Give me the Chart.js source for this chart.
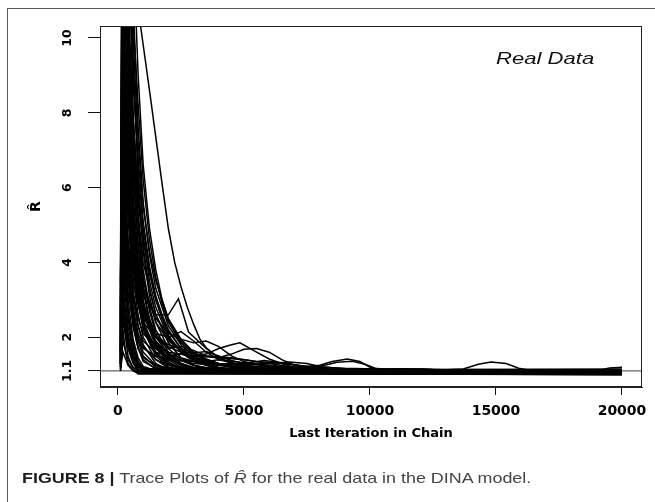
<!DOCTYPE html>
<html><head><meta charset="utf-8">
<script src="https://cdn.jsdelivr.net/npm/chart.js@4"></script>
<style>
html,body{margin:0;padding:0;background:#fff;}
#wrap{position:relative;width:655px;height:502px;overflow:hidden;background:#fff;}
#frame{position:absolute;left:7px;top:8px;width:720px;height:620px;border-left:1.5px solid #5a5a5a;border-top:1.5px solid #5a5a5a;}
#cv{position:absolute;left:0;top:0;}
#caption{position:absolute;left:22px;top:471px;font-family:'Liberation Sans',Arial,sans-serif;font-size:14.5px;line-height:1;white-space:nowrap;transform:scaleX(1.234);transform-origin:0 0;color:#454545;}
#caption b{color:#1e1e1e;}
</style></head>
<body>
<div id="wrap">
  <div id="frame"></div>
  <canvas id="cv" width="655" height="502"></canvas>
  <div id="caption"><b>FIGURE 8 |</b> Trace Plots of <i>R&#770;</i> for the real data in the DINA model.</div>
</div>
<script>
// ---- data: [last iteration, R-hat] ----
const X_TICKS = [0, 5000, 10000, 15000, 20000];
const Y_TICKS = [1.1, 2, 4, 6, 8, 10];
const X_MIN = -714, X_MAX = 20794;
const Y_MIN = 0.67, Y_MAX = 10.32;
const REF_LINE = 1.1;
const PANEL_LABEL = 'Real Data';
const PANEL_LABEL_AT = [16950, 9.44];

const spikeTraces = [
  [[100,1.3],[200,6.5],[300,12],[400,15],[500,11],[600,8],[800,5],[1000,3.4],[1250,2.4],[1500,1.8],[2000,1.35],[2500,1.15],[3000,1.08],[4000,1.05],[20000,1.04]],
  [[100,2.1],[200,14],[300,18],[400,13],[600,9.5],[800,6.2],[1000,4.3],[1250,3.1],[1500,2.4],[2000,1.7],[2500,1.4],[3000,1.25],[3500,1.15],[4000,1.1],[5000,1.06],[20000,1.03]],
  [[100,1.6],[200,10.5],[300,9],[400,6.5],[600,4.2],[800,3],[1000,2.2],[1500,1.5],[2000,1.2],[3000,1.08],[20000,1.02]],
  [[100,2.8],[200,16],[400,12.5],[600,8.8],[800,6.8],[1000,5.1],[1250,3.9],[1500,3.1],[1750,2.6],[2000,2.2],[2500,1.7],[3000,1.4],[3500,1.25],[4000,1.18],[5000,1.12],[6000,1.08],[8000,1.06],[20000,1.05]],
  [[100,1.2],[200,4.5],[300,8.5],[400,7.2],[600,4.8],[800,3.3],[1000,2.5],[1250,1.9],[1500,1.6],[2000,1.3],[2500,1.15],[3000,1.08],[20000,1.02]],
  [[100,3.4],[200,20],[400,16],[600,11],[800,7.6],[1000,5.6],[1250,4.2],[1500,3.3],[2000,2.3],[2500,1.8],[3000,1.5],[3500,1.35],[4000,1.25],[4500,1.2],[5000,1.15],[6000,1.1],[7000,1.07],[20000,1.04]],
  [[100,1.9],[200,11.5],[300,13],[400,10.2],[500,8],[600,6.5],[800,4.4],[1000,3.2],[1250,2.5],[1500,2.0],[2000,1.55],[2500,1.3],[3000,1.18],[4000,1.1],[5000,1.06],[20000,1.03]],
  [[100,1.4],[200,7.5],[300,5.2],[400,3.8],[600,2.6],[800,2.0],[1000,1.6],[1500,1.25],[2000,1.1],[20000,1.01]],
  [[100,2.4],[200,12.5],[300,10.8],[400,9.5],[600,7],[800,5.6],[1000,4.6],[1250,3.7],[1500,3.0],[1750,2.5],[2000,2.15],[2500,1.7],[3000,1.45],[3500,1.3],[4000,1.2],[5000,1.12],[6000,1.08],[20000,1.06]],
  [[100,1.15],[200,3.2],[300,6],[400,9.8],[500,8.2],[600,6.8],[800,4.9],[1000,3.6],[1250,2.7],[1500,2.1],[2000,1.5],[2500,1.25],[3000,1.12],[4000,1.05],[20000,1.03]],
  [[100,3.0],[200,13],[300,16],[500,12],[600,10],[800,7.2],[1000,5.5],[1250,4.3],[1500,3.5],[2000,2.5],[2500,1.95],[3000,1.6],[3500,1.4],[4000,1.3],[4500,1.22],[5000,1.17],[6000,1.12],[7000,1.09],[9000,1.07],[20000,1.05]],
  [[100,1.7],[200,8.8],[300,7.6],[400,5.8],[600,3.6],[800,2.6],[1000,2.0],[1500,1.4],[2000,1.18],[3000,1.06],[20000,1.01]],
  [[100,2.2],[200,11],[400,10.6],[500,9.3],[600,7.8],[800,5.9],[1000,4.7],[1250,3.5],[1500,2.8],[2000,2.0],[2500,1.65],[3000,1.45],[3500,1.35],[4000,1.28],[4500,1.2],[5000,1.14],[6000,1.09],[20000,1.05]],
  [[100,1.3],[200,5.8],[300,4.6],[400,3.5],[600,2.3],[800,1.7],[1000,1.4],[1500,1.15],[2000,1.06],[20000,1.02]],
  [[100,2.6],[200,15],[300,14],[400,12],[600,9.2],[800,6.5],[1000,4.9],[1250,3.8],[1500,3.0],[2000,2.05],[2500,1.6],[3000,1.35],[4000,1.15],[5000,1.1],[20000,1.04]],
  [[100,1.8],[200,9.5],[300,8.2],[400,6.6],[600,4.6],[800,3.4],[1000,2.7],[1250,2.2],[1500,1.9],[2000,1.55],[2500,1.38],[3000,1.25],[4000,1.12],[5000,1.07],[20000,1.03]],
  [[100,1.1],[200,2.4],[300,4.8],[400,6.2],[500,5.4],[600,4.5],[800,3.2],[1000,2.4],[1500,1.6],[2000,1.3],[3000,1.1],[20000,1.02]],
  [[100,3.2],[200,18],[400,13.8],[600,10.5],[800,8.2],[1000,6.2],[1250,4.6],[1500,3.6],[1750,2.9],[2000,2.4],[2500,1.85],[3000,1.55],[3500,1.38],[4000,1.27],[5000,1.15],[6000,1.1],[20000,1.06]],
  [[100,1.5],[200,8],[300,11],[400,9],[600,5.8],[800,4],[1000,3],[1250,2.3],[1500,1.85],[2000,1.4],[2500,1.2],[3000,1.1],[20000,1.02]],
  [[100,2.0],[200,10],[300,7.4],[400,5.2],[600,3.2],[800,2.3],[1000,1.8],[1500,1.3],[2000,1.12],[20000,1.02]],
  [[100,2.5],[200,18],[500,14],[900,10.3],[1250,8.6],[1500,7.35],[1750,6.1],[2000,4.9],[2250,4.0],[2500,3.35],[2750,2.8],[3000,2.35],[3250,1.95],[3500,1.72],[4000,1.45],[4500,1.3],[5000,1.22],[6000,1.15],[7000,1.1],[20000,1.06]],
  [[100,1.6],[200,9],[400,7],[600,5],[800,3.8],[1000,3.1],[1500,2.6],[2000,2.6],[2400,3.03],[2800,2.14],[3500,1.7],[4000,1.45],[5000,1.2],[6000,1.1],[20000,1.04]],
  [[100,2.9],[200,17],[300,14],[400,11.2],[500,9.4],[600,7.9],[800,5.8],[1000,4.4],[1250,3.3],[1500,2.6],[2000,1.85],[2500,1.45],[3000,1.25],[4000,1.12],[6000,1.06],[20000,1.04]],
  [[100,1.25],[200,5.2],[300,9.5],[400,8.4],[500,6.9],[600,5.6],[800,3.9],[1000,2.9],[1250,2.2],[1500,1.75],[2000,1.3],[3000,1.08],[20000,1.03]],
  [[100,2.0],[200,13.5],[300,11.5],[400,8.7],[600,5.4],[800,3.7],[1000,2.8],[1500,1.85],[2000,1.45],[2500,1.25],[3000,1.15],[4000,1.08],[20000,1.04]],
  [[100,1.45],[200,6.8],[300,7.1],[400,6],[600,4.1],[800,2.9],[1000,2.25],[1500,1.55],[2000,1.25],[3000,1.1],[20000,1.03]],
  [[100,3.5],[200,22],[400,18],[600,12.5],[800,9],[1000,6.6],[1250,4.9],[1500,3.8],[1750,3.0],[2000,2.45],[2500,1.9],[3000,1.6],[3500,1.42],[4000,1.3],[5000,1.18],[6000,1.12],[8000,1.08],[20000,1.06]],
  [[100,1.75],[200,9.8],[300,12.2],[400,10.8],[600,7.4],[800,5.2],[1000,3.8],[1250,2.8],[1500,2.2],[2000,1.6],[2500,1.3],[3000,1.16],[4000,1.08],[20000,1.03]]
];

const slowTraces = [
  [[100,1.4],[200,6],[400,4.5],[600,3.4],[1000,2.4],[1500,2.0],[2000,1.75],[2500,1.6],[3000,1.5],[3500,1.55],[4000,1.7],[4500,1.8],[4840,1.85],[5500,1.6],[6000,1.42],[6500,1.3],[7000,1.2],[8000,1.12],[20000,1.05]],
  [[100,1.9],[200,9.2],[400,7.5],[600,5.5],[800,4.1],[1000,3.3],[1500,2.5],[2000,2.1],[2500,1.95],[3000,1.85],[3500,1.9],[4000,1.75],[4500,1.5],[5000,1.35],[6000,1.2],[7000,1.12],[20000,1.05]],
  [[100,1.2],[200,4],[300,5.5],[400,4.6],[600,3.2],[800,2.5],[1000,2.1],[1500,1.75],[2000,1.6],[3000,1.5],[4000,1.45],[4500,1.55],[5000,1.68],[5500,1.7],[6000,1.6],[6500,1.4],[7000,1.25],[8000,1.15],[9000,1.1],[20000,1.05]],
  [[100,2.3],[200,12],[400,9],[600,6.2],[800,4.5],[1000,3.5],[1500,2.4],[2000,1.9],[2500,1.65],[3000,1.55],[4000,1.45],[5000,1.4],[6000,1.3],[7000,1.2],[8000,1.12],[20000,1.06]],
  [[100,1.5],[200,7],[400,5.3],[600,3.8],[800,2.9],[1000,2.3],[1500,1.7],[2000,1.45],[3000,1.3],[4000,1.25],[5000,1.22],[6000,1.2],[7000,1.2],[8000,1.25],[8500,1.35],[9100,1.42],[9600,1.35],[10000,1.2],[10500,1.12],[12000,1.1],[20000,1.05]],
  [[100,2.7],[200,13.5],[400,10],[600,7.2],[800,5.3],[1000,4.0],[1500,2.6],[2000,1.95],[2500,1.6],[3000,1.4],[4000,1.28],[5000,1.25],[6000,1.2],[7000,1.18],[8000,1.22],[8700,1.33],[9300,1.36],[9800,1.28],[10200,1.17],[11000,1.12],[13000,1.1],[20000,1.05]],
  [[100,1.6],[200,8.2],[400,6],[600,4.2],[800,3.1],[1000,2.4],[1500,1.7],[2000,1.4],[3000,1.2],[5000,1.15],[8000,1.12],[12000,1.1],[13700,1.15],[14300,1.28],[14800,1.34],[15400,1.3],[15900,1.17],[16500,1.1],[20000,1.08]],
  [[100,1.3],[200,5],[400,3.9],[600,2.8],[800,2.1],[1000,1.75],[1500,1.4],[2000,1.25],[3000,1.15],[6000,1.1],[10000,1.12],[12000,1.14],[14000,1.1],[17000,1.09],[19000,1.1],[19500,1.18],[20000,1.2]],
  [[100,1.55],[200,7.8],[400,5.6],[600,3.9],[800,3],[1000,2.5],[1500,2.1],[2000,2.0],[2500,2.15],[3000,1.9],[3500,1.6],[4000,1.4],[5000,1.25],[6000,1.15],[7000,1.1],[20000,1.05]],
  [[100,2.5],[200,12],[400,8],[600,5.2],[800,3.6],[1000,2.7],[1500,2.0],[2000,1.7],[2500,1.75],[3000,1.65],[3500,1.5],[4500,1.45],[5500,1.35],[6500,1.3],[7500,1.22],[8500,1.15],[10000,1.1],[20000,1.06]],
  [[100,1.3],[200,4.2],[400,3.2],[600,2.4],[800,1.95],[1000,1.7],[1500,1.5],[2000,1.42],[3000,1.35],[4000,1.3],[5000,1.28],[6000,1.3],[6800,1.34],[7500,1.3],[8000,1.22],[9000,1.15],[10000,1.12],[11000,1.13],[12000,1.15],[13000,1.12],[20000,1.08]],
  [[100,1.35],[200,5.6],[400,4.2],[600,3],[800,2.3],[1000,1.9],[1500,1.6],[2000,1.5],[2500,1.55],[3000,1.45],[3500,1.35],[4000,1.4],[5000,1.32],[6000,1.25],[7000,1.18],[8000,1.14],[20000,1.06]],
  [[100,2.1],[200,10.8],[400,7.8],[600,5.3],[800,3.8],[1000,2.9],[1500,2.05],[2000,1.8],[2500,1.7],[3000,1.58],[3500,1.62],[4000,1.5],[4500,1.38],[5000,1.3],[6000,1.24],[7000,1.2],[8000,1.16],[9000,1.14],[10000,1.12],[20000,1.07]],
  [[100,1.7],[200,8.6],[400,6.4],[600,4.5],[800,3.3],[1000,2.6],[1500,1.85],[2000,1.55],[3000,1.35],[4000,1.28],[5000,1.3],[5800,1.38],[6500,1.32],[7500,1.22],[9000,1.17],[11000,1.14],[20000,1.09]]
];

const settledTraces = [
  [[100,1.25],[200,3.5],[300,2.4],[400,1.8],[600,1.35],[800,1.12],[1000,1.05],[20000,1.0]],
  [[100,1.8],[200,4.8],[300,3.3],[400,2.5],[600,1.7],[800,1.3],[1000,1.15],[1500,1.07],[20000,1.03]],
  [[100,1.1],[200,2.2],[300,1.6],[400,1.3],[600,1.12],[800,1.05],[20000,1.02]],
  [[100,1.5],[200,3],[400,2],[600,1.5],[800,1.25],[1000,1.1],[2000,1.04],[20000,1.01]],
  [[100,1.2],[200,1.9],[400,1.4],[600,1.2],[800,1.08],[20000,1.06]],
  [[100,2.2],[200,6.8],[300,5],[400,3.6],[600,2.3],[800,1.7],[1000,1.45],[1500,1.25],[2000,1.18],[3000,1.15],[5000,1.14],[7000,1.16],[8000,1.15],[10000,1.14],[11000,1.16],[12000,1.15],[13000,1.12],[16000,1.11],[17000,1.13],[20000,1.12]],
  [[100,1.35],[200,2.8],[400,1.9],[600,1.4],[800,1.2],[1000,1.12],[2000,1.1],[4000,1.12],[6000,1.1],[9000,1.13],[12000,1.1],[16000,1.09],[20000,1.1]],
  [[100,1.15],[200,1.6],[400,1.25],[600,1.1],[800,1.04],[20000,1.0]],
  [[100,2.6],[200,8.5],[300,6.2],[400,4.4],[600,2.7],[800,1.9],[1000,1.5],[1500,1.2],[2000,1.1],[3000,1.08],[20000,1.07]],
  [[100,1.65],[200,5.5],[400,3],[600,1.95],[800,1.45],[1000,1.22],[1500,1.1],[2000,1.09],[5000,1.1],[8000,1.09],[12000,1.08],[16000,1.07],[20000,1.08]],
  [[100,1.4],[200,3.8],[400,2.3],[600,1.6],[800,1.28],[1000,1.14],[1500,1.12],[3000,1.13],[6000,1.12],[10000,1.11],[14000,1.12],[18000,1.11],[20000,1.11]],
  [[100,1.3],[200,2.6],[400,1.7],[600,1.3],[800,1.1],[1000,1.06],[20000,1.05]],
  [[100,1.9],[200,5.5],[300,3.8],[400,2.7],[600,1.8],[800,1.35],[1000,1.17],[1500,1.15],[3000,1.16],[5000,1.15],[9000,1.16],[13000,1.14],[20000,1.15]],
  [[100,1.2],[200,2.5],[400,1.5],[600,1.15],[800,1.02],[20000,1.01]],
  [[100,2.4],[200,7.2],[300,5.6],[400,4],[600,2.5],[800,1.75],[1000,1.35],[1500,1.17],[2000,1.13],[6000,1.13],[11000,1.14],[16000,1.13],[20000,1.13]],
  [[100,1.45],[200,3.3],[400,2.1],[600,1.45],[800,1.15],[1000,1.08],[4000,1.09],[20000,1.09]],
  [[100,1.6],[200,4.4],[400,2.7],[600,1.8],[800,1.33],[1000,1.18],[1500,1.12],[4000,1.07],[20000,1.07]]
];

// ---- chart ----
const traceSets = [...spikeTraces, ...slowTraces, ...settledTraces].map(tr => ({
  data: tr.map(p => ({x: p[0], y: p[1]})),
  borderColor: '#000', borderWidth: 1.5, pointRadius: 0, fill: false, tension: 0
}));
traceSets.push({
  data: [{x: X_MIN, y: REF_LINE}, {x: X_MAX, y: REF_LINE}],
  borderColor: '#3c3c3c', borderWidth: 1, pointRadius: 0, fill: false
});

const boxPlugin = {
  id: 'plotBox',
  afterDatasetsDraw(chart) {
    const a = chart.chartArea, c = chart.ctx;
    c.save(); c.strokeStyle = '#222'; c.lineWidth = 1;
    c.strokeRect(a.left + 0.5, a.top + 0.5, a.right - a.left - 1, a.bottom - a.top - 1);
    c.restore();
  }
};
const labelPlugin = {
  id: 'panelLabel',
  afterDatasetsDraw(chart) {
    const c = chart.ctx, sx = chart.scales.x, sy = chart.scales.y;
    c.save();
    c.translate(sx.getPixelForValue(PANEL_LABEL_AT[0]), sy.getPixelForValue(PANEL_LABEL_AT[1]));
    c.scale(1.3, 1);
    c.font = 'italic 17px "Liberation Sans", Arial, sans-serif';
    c.fillStyle = '#111'; c.textAlign = 'center'; c.textBaseline = 'middle';
    c.fillText(PANEL_LABEL, 0, 0);
    c.restore();
  }
};

new Chart(document.getElementById('cv'), {
  type: 'line',
  data: {datasets: traceSets},
  options: {
    responsive: false, animation: false, events: [],
    layout: {padding: {left: 20, top: 26, right: 13, bottom: 61}},
    plugins: {legend: {display: false}, tooltip: {enabled: false}},
    scales: {
      x: {
        type: 'linear', min: X_MIN, max: X_MAX,
        afterBuildTicks: s => { s.ticks = X_TICKS.map(v => ({value: v})); },
        afterFit: s => { s.height = 54; },
        grid: {drawOnChartArea: false, drawTicks: true, tickLength: 8, color: '#111', lineWidth: 1},
        border: {display: true, color: '#222', width: 1},
        ticks: {color: '#000', autoSkip: false, maxRotation: 0, padding: 8,
                font: {family: 'DejaVu Sans', weight: 'bold', size: 14},
                callback: v => String(v)},
        title: {display: true, text: 'Last Iteration in Chain', color: '#000', padding: 0,
                font: {family: 'DejaVu Sans', weight: 'bold', size: 13}}
      },
      y: {
        type: 'linear', min: Y_MIN, max: Y_MAX,
        afterBuildTicks: s => { s.ticks = Y_TICKS.map(v => ({value: v})); },
        afterFit: s => { s.width = 80; },
        grid: {drawOnChartArea: false, drawTicks: true, tickLength: 12, color: '#111', lineWidth: 1},
        border: {display: true, color: '#222', width: 1},
        ticks: {color: '#000', autoSkip: false, minRotation: 90, maxRotation: 90, crossAlign: 'center', padding: 9,
                font: {family: 'DejaVu Sans', weight: 'bold', size: 12.5},
                callback: v => String(v)},
        title: {display: true, text: 'R\u0302', color: '#000', padding: {top: 8, bottom: 0},
                font: {family: 'DejaVu Sans', weight: 'bold', size: 14}}
      }
    }
  },
  plugins: [boxPlugin, labelPlugin]
});
</script>
</body></html>
